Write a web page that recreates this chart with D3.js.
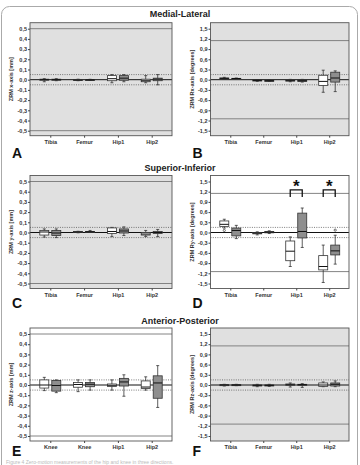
<!DOCTYPE html>
<html>
<head>
<meta charset="utf-8">
<script src="https://cdn.jsdelivr.net/npm/d3@7"></script>
<style>
  body { margin: 0; background: #fff; }
  svg { font-family: "Liberation Sans", Arial, sans-serif; }
  .tick text { font-size: 5.5px; font-weight: bold; fill: #333; }
  .tick line { stroke: #444; }
</style>
</head>
<body>
<div id="chart"></div>
<script>
// categories / tick values
var catsTFHH = ['Tibia', 'Femur', 'Hip1', 'Hip2'];
var catsE = ['Knee', 'Knee', 'Hip1', 'Hip2'];
var mmTicks = [0.5, 0.4, 0.3, 0.2, 0.1, 0, -0.1, -0.2, -0.3, -0.4, -0.5];
var degTicks = [1.5, 1.2, 0.9, 0.6, 0.3, 0, -0.3, -0.6, -0.9, -1.2, -1.5];

// box stats: [min, q1, median, q3, max] per category, white then grey
var boxA_white = [[-0.02,-0.005,0,0.005,0.01],[-0.01,-0.007,-0.003,0.003,0.005],[-0.03,-0.01,0.01,0.04,0.05],[-0.03,-0.02,-0.01,0.005,0.04]];
var boxA_grey  = [[-0.01,-0.005,0,0.005,0.01],[-0.007,-0.005,-0.002,0.002,0.004],[-0.02,-0.005,0.015,0.04,0.05],[-0.05,-0.01,0.005,0.015,0.05]];
var boxB_white = [[0.02,0.03,0.04,0.05,0.07],[-0.05,-0.03,-0.02,-0.01,0],[-0.06,-0.04,-0.03,-0.01,0.01],[-0.37,-0.17,-0.05,0.13,0.28]];
var boxB_grey  = [[0.02,0.03,0.035,0.04,0.05],[-0.05,-0.04,-0.03,-0.02,0],[-0.07,-0.05,-0.03,-0.01,0.01],[-0.35,-0.07,0.05,0.22,0.26]];
var boxC_white = [[-0.045,-0.025,0.005,0.02,0.035],[-0.003,0,0.005,0.01,0.012],[-0.04,-0.01,0.01,0.045,0.05],[-0.04,-0.025,-0.015,0,0.02]];
var boxC_grey  = [[-0.05,-0.03,-0.005,0.02,0.035],[0,0.003,0.007,0.01,0.02],[-0.03,-0.005,0.015,0.035,0.055],[-0.04,-0.01,0,0.01,0.03]];
var boxD_white = [[0.13,0.18,0.24,0.34,0.39],[-0.07,-0.04,-0.02,0,0.02],[-1.0,-0.83,-0.55,-0.25,-0.13],[-1.47,-1.1,-1.0,-0.68,-0.37]];
var boxD_grey  = [[-0.18,-0.1,0.06,0.13,0.21],[-0.03,-0.01,0.01,0.03,0.05],[-0.44,-0.16,0.03,0.57,0.72],[-0.93,-0.66,-0.54,-0.37,-0.08]];
var boxE_white = [[-0.055,-0.03,0,0.05,0.075],[-0.065,-0.022,0.005,0.025,0.05],[-0.05,-0.015,-0.003,0.01,0.05],[-0.05,-0.035,-0.02,0.04,0.08]];
var boxE_grey  = [[-0.075,-0.06,-0.005,0.045,0.05],[-0.05,-0.017,0.007,0.025,0.05],[-0.11,-0.01,0.03,0.065,0.1],[-0.22,-0.13,0.02,0.09,0.19]];
var boxF_white = [[-0.03,-0.01,0,0.01,0.02],[-0.05,-0.03,-0.01,0,0.02],[-0.06,-0.01,0.01,0.03,0.06],[-0.05,-0.04,0,0.06,0.09]];
var boxF_grey  = [[-0.02,-0.01,0,0.01,0.02],[-0.04,-0.02,-0.01,0,0.02],[-0.07,0,0.01,0.02,0.04],[-0.05,-0.03,0.02,0.06,0.12]];

// outliers: [category index, series, value]
var outliersD = [[0, 'white', 0.06], [3, 'grey', 0.07]];
// significant pairs in panel D
var sigD = [2, 3];

var titles = ['Medial-Lateral', 'Superior-Inferior', 'Anterior-Posterior'];

var panels = [
  {letter:'A', row:0, col:0, cats:catsTFHH, ticks:mmTicks, lim:0.5, tol:0.05, ref:0.5, label:'ZRM x-axis [mm]', white:boxA_white, grey:boxA_grey, bg:'#e0e0e0'},
  {letter:'B', row:0, col:1, cats:catsTFHH, ticks:degTicks, lim:1.5, tol:0.15, ref:1.15, label:'ZRM Rx-axis [degrees]', white:boxB_white, grey:boxB_grey, bg:'#e0e0e0'},
  {letter:'C', row:1, col:0, cats:catsTFHH, ticks:mmTicks, lim:0.5, tol:0.05, ref:0.5, label:'ZRM y-axis [mm]', white:boxC_white, grey:boxC_grey, bg:'#e0e0e0'},
  {letter:'D', row:1, col:1, cats:catsTFHH, ticks:degTicks, lim:1.5, tol:0.15, ref:1.15, label:'ZRM Ry-axis [degrees]', white:boxD_white, grey:boxD_grey, bg:'#fff', outliers:outliersD, sig:sigD},
  {letter:'E', row:2, col:0, cats:catsE, ticks:mmTicks, lim:0.5, tol:0.05, ref:0.5, label:'ZRM z-axis [mm]', white:boxE_white, grey:boxE_grey, bg:'#fff'},
  {letter:'F', row:2, col:1, cats:catsTFHH, ticks:degTicks, lim:1.5, tol:0.15, ref:1.15, label:'ZRM Rz-axis [degrees]', white:boxF_white, grey:boxF_grey, bg:'#e0e0e0'}
];

var width = 360, height = 465;
var colX = [[30, 172], [210.5, 349]];
var rowTick = [28.7, 181.5, 334];   // y of top tick
var tickSpan = 102;
var titleY = [17, 171, 323.5];
var letterY = [157.5, 307.5, 456];

var svg = d3.select('#chart').append('svg')
  .attr('width', width)
  .attr('height', height);

// outer frame
svg.append('rect')
  .attr('x', 1.5).attr('y', 6.5)
  .attr('width', 356).attr('height', 490)
  .attr('rx', 8)
  .attr('fill', 'none')
  .attr('stroke', '#aaa');

titles.forEach(function(t, i) {
  svg.append('text')
    .attr('x', 180).attr('y', titleY[i])
    .attr('text-anchor', 'middle')
    .style('font-size', '9px')
    .style('font-weight', 'bold')
    .style('fill', '#222')
    .text(t);
});

panels.forEach(drawPanel);

// caption line at the very bottom
svg.append('text')
  .attr('x', 6).attr('y', 464)
  .style('font-size', '5px')
  .style('fill', '#bbb')
  .text('Figure 4  Zero-motion measurements of the hip and knee in three directions.');

function fmt(d) {
  return d3.format('.1f')(d).replace('.', ',').replace('−', '-');
}

function drawPanel(p) {
  var x0 = colX[p.col][0], x1 = colX[p.col][1];
  var yTop = rowTick[p.row], yBot = yTop + tickSpan;
  var y = d3.scaleLinear().domain([-p.lim, p.lim]).range([yBot, yTop]);
  var x = d3.scalePoint().domain(d3.range(p.cats.length)).range([x0, x1]).padding(0.6);
  var top = yTop - 6, bottom = yBot + 5;

  var g = svg.append('g');

  g.append('rect')
    .attr('x', x0).attr('y', top)
    .attr('width', x1 - x0).attr('height', bottom - top)
    .attr('fill', p.bg);

  // tolerance lines (dotted) and reference lines (solid)
  [p.tol, -p.tol].forEach(function(v) {
    g.append('line')
      .attr('x1', x0).attr('x2', x1)
      .attr('y1', y(v)).attr('y2', y(v))
      .attr('stroke', '#444').attr('stroke-width', 0.7)
      .attr('stroke-dasharray', '1,1.3');
  });
  [p.ref, -p.ref].forEach(function(v) {
    g.append('line')
      .attr('x1', x0).attr('x2', x1)
      .attr('y1', y(v)).attr('y2', y(v))
      .attr('stroke', '#777').attr('stroke-width', 0.9);
  });
  g.append('line')
    .attr('x1', x0).attr('x2', x1)
    .attr('y1', y(0)).attr('y2', y(0))
    .attr('stroke', '#111').attr('stroke-width', 1);

  // boxes
  var series = [
    {key:'white', data:p.white, off:-6, fill:'#fff'},
    {key:'grey', data:p.grey, off:6, fill:'#8e8e8e'}
  ];
  var bw = 9;
  series.forEach(function(s) {
    var b = g.selectAll('g.box-' + s.key).data(s.data).enter()
      .append('g').attr('class', 'box-' + s.key)
      .attr('transform', function(d, i) { return 'translate(' + (x(i) + s.off) + ',0)'; });

    b.append('line')
      .attr('x1', 0).attr('x2', 0)
      .attr('y1', function(d) { return y(d[0]); })
      .attr('y2', function(d) { return y(d[4]); })
      .attr('stroke', '#333').attr('stroke-width', 0.8);
    b.selectAll('line.cap').data(function(d) { return [d[0], d[4]]; }).enter()
      .append('line').attr('class', 'cap')
      .attr('x1', -1.5).attr('x2', 1.5)
      .attr('y1', function(v) { return y(v); })
      .attr('y2', function(v) { return y(v); })
      .attr('stroke', '#333').attr('stroke-width', 0.8);
    b.append('rect')
      .attr('x', -bw / 2).attr('width', bw)
      .attr('y', function(d) { return y(d[3]); })
      .attr('height', function(d) { return Math.max(1, y(d[1]) - y(d[3])); })
      .attr('fill', s.fill)
      .attr('stroke', '#333').attr('stroke-width', 0.8);
    b.append('line')
      .attr('x1', -bw / 2).attr('x2', bw / 2)
      .attr('y1', function(d) { return y(d[2]); })
      .attr('y2', function(d) { return y(d[2]); })
      .attr('stroke', '#111').attr('stroke-width', 1);
  });

  (p.outliers || []).forEach(function(o) {
    var off = o[1] === 'white' ? -6 : 6;
    g.append('circle')
      .attr('cx', x(o[0]) + off).attr('cy', y(o[2]))
      .attr('r', 1.1)
      .attr('fill', 'none').attr('stroke', '#333').attr('stroke-width', 0.7);
  });

  // significance brackets
  (p.sig || []).forEach(function(i) {
    var xa = x(i) - 6, xb = x(i) + 6;
    var by = y(p.ref) - 3.5, ly = y(p.ref) + 3.5;
    g.append('path')
      .attr('d', 'M' + xa + ',' + ly + 'V' + by + 'H' + xb + 'V' + ly)
      .attr('fill', 'none').attr('stroke', '#111').attr('stroke-width', 1.3);
    g.append('text')
      .attr('x', x(i)).attr('y', by + 2)
      .attr('text-anchor', 'middle')
      .style('font-size', '17px').style('font-weight', 'bold')
      .style('fill', '#111')
      .text('*');
  });

  g.append('rect')
    .attr('x', x0).attr('y', top)
    .attr('width', x1 - x0).attr('height', bottom - top)
    .attr('fill', 'none').attr('stroke', '#555').attr('stroke-width', 0.9);

  // axes
  var yAxis = d3.axisLeft(y).tickValues(p.ticks).tickSize(2).tickPadding(1).tickFormat(fmt);
  g.append('g').attr('transform', 'translate(' + x0 + ',0)').call(yAxis)
    .call(function(a) { a.select('.domain').remove(); });

  var xAxis = d3.axisBottom(x).tickSize(2).tickPadding(2.5).tickFormat(function(i) { return p.cats[i]; });
  g.append('g').attr('transform', 'translate(0,' + bottom + ')').call(xAxis)
    .call(function(a) { a.select('.domain').remove(); });

  g.append('text')
    .attr('transform', 'translate(' + (x0 - 17) + ',' + ((top + bottom) / 2) + ') rotate(-90)')
    .attr('text-anchor', 'middle')
    .style('font-size', '5.5px').style('font-weight', 'bold')
    .style('fill', '#333')
    .text(p.label);

  svg.append('text')
    .attr('x', x0 - 18).attr('y', letterY[p.row])
    .style('font-size', '14px').style('font-weight', 'bold')
    .style('fill', '#111')
    .text(p.letter);
}
</script>
</body>
</html>
